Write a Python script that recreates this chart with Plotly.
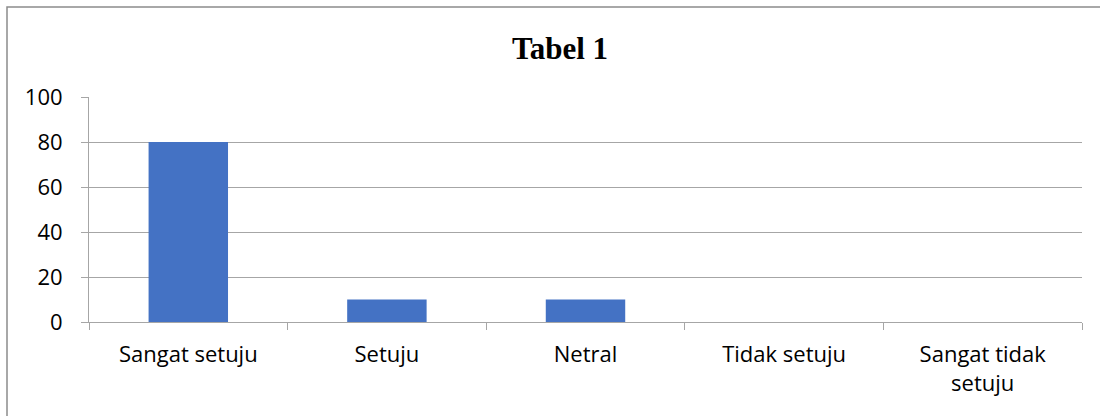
import plotly.graph_objects as go

categories = ["Sangat setuju", "Setuju", "Netral", "Tidak setuju", "Sangat tidak<br>setuju"]
values = [80, 10, 10, 0, 0]
y_ticks = [0, 20, 40, 60, 80, 100]

grid = "#A6A6A6"
fig = go.Figure(go.Bar(x=categories, y=values, marker=dict(color="#4472C4", line=dict(width=0)), width=0.4))

fig.update_layout(
    width=1100, height=416,
    margin=dict(l=89, r=18, t=97, b=94),
    paper_bgcolor="white", plot_bgcolor="white",
    showlegend=False,
    title=dict(text="<b>Tabel 1</b>", x=560 / 1100, xanchor="center",
               y=1 - 48 / 416, yanchor="middle",
               font=dict(family="Liberation Serif", size=31, color="black")),
    font=dict(family="Open Sans", size=22, color="black"),
    xaxis=dict(showline=True, linecolor=grid, linewidth=1, ticks="outside", tickson="boundaries",
               ticklen=7, tickcolor=grid, showgrid=False, ticklabelstandoff=13,
               tickfont=dict(family="Open Sans", size=22, color="black")),
    yaxis=dict(range=[0, 100], tickvals=y_ticks, showgrid=True, gridcolor=grid, gridwidth=1,
               showline=True, linecolor=grid, linewidth=1, ticks="outside", ticklen=7, tickcolor=grid,
               zeroline=False, ticklabelstandoff=14,
               tickfont=dict(family="Open Sans", size=22, color="black")),
    shapes=[dict(type="rect", xref="paper", yref="paper",
                 x0=(7 - 89) / 993, x1=1.2, y0=-0.6, y1=(322 - 7) / 225,
                 line=dict(color="#8C8C8C", width=1.5), fillcolor="rgba(0,0,0,0)", layer="below")],
)

fig.write_html("out.html", config={"displayModeBar": False},
               post_script="document.body.style.margin='0';document.body.style.overflow='hidden';")
